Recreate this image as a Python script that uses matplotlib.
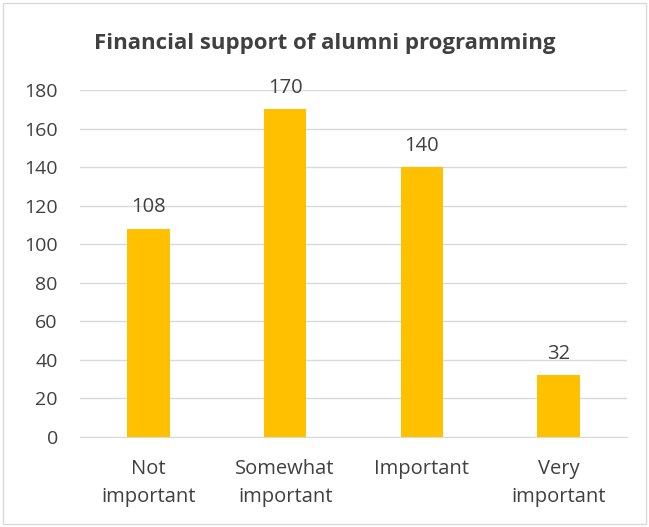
import matplotlib.pyplot as plt
from matplotlib.patches import Rectangle

categories = ["Not\nimportant", "Somewhat\nimportant", "Important", "Very\nimportant"]
values = [108, 170, 140, 32]
y_ticks = [0, 20, 40, 60, 80, 100, 120, 140, 160, 180]

plt.rcParams['font.family'] = ['Open Sans', 'DejaVu Sans']

fig = plt.figure(figsize=(6.49, 5.27), dpi=100)
ax = fig.add_axes([80 / 649, 1 - 437 / 527, 547 / 649, 347 / 527])

x = range(len(values))
ax.bar(x, values, width=0.31, color="#FFC000", zorder=3)
for xi, v in zip(x, values):
    ax.text(xi, v + 6, str(v), ha="center", va="bottom", fontsize=14.5, color="#404040")

ax.set_xlim(-0.5, len(values) - 0.5)
ax.set_ylim(0, 180)
ax.set_yticks(y_ticks)
ax.set_xticks(list(x))
ax.set_xticklabels(categories, fontsize=14.5, color="#404040", linespacing=1.5)
ax.tick_params(axis="y", labelsize=14, labelcolor="#404040", length=0, pad=16)
ax.tick_params(axis="x", length=0, pad=16)
ax.grid(axis="y", color="#D9D9D9", linewidth=1, zorder=0)
for side in ["top", "right", "left"]:
    ax.spines[side].set_visible(False)
ax.spines["bottom"].set_color("#D9D9D9")

fig.text(0.5, 1 - 43 / 527, "Financial support of alumni programming",
         ha="center", va="center", fontsize=16, fontweight="bold", color="#404040")

fig.patches.append(Rectangle((3 / 649, 3 / 527), 643 / 649, 521 / 527,
                             transform=fig.transFigure, fill=False,
                             edgecolor="#D9D9D9", linewidth=1))

fig.savefig("out.png", dpi=100)
